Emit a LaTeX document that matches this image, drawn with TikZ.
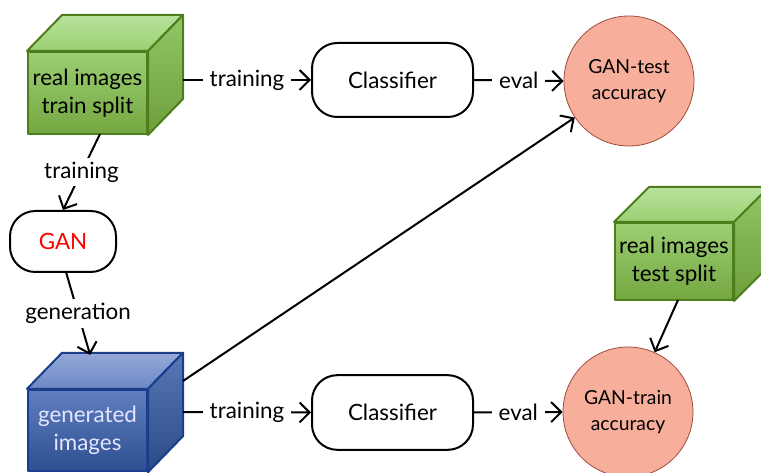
\documentclass[tikz,border=0pt]{standalone}
\usepackage{fontspec}
\setmainfont{Lato}
\usetikzlibrary{arrows.meta}
\definecolor{gFt}{HTML}{9BCF72}
\definecolor{gFb}{HTML}{74A641}
\definecolor{gTt}{HTML}{B8E29C}
\definecolor{gTb}{HTML}{9BCF72}
\definecolor{gRt}{HTML}{90C766}
\definecolor{gRb}{HTML}{6E9E3A}
\definecolor{gB}{HTML}{4E7D1C}
\definecolor{bFt}{HTML}{5F7FC0}
\definecolor{bFb}{HTML}{2E4F8F}
\definecolor{bTt}{HTML}{95A9D8}
\definecolor{bTb}{HTML}{6C88C5}
\definecolor{bRt}{HTML}{5877B6}
\definecolor{bRb}{HTML}{2B4A88}
\definecolor{bB}{HTML}{1B3E8C}
\definecolor{circF}{HTML}{F7AF9C}
\definecolor{circB}{HTML}{9C4A3A}
\definecolor{ganred}{HTML}{FF0000}
\tikzset{
  mainfont/.style={font=\fontsize{16.8}{21}\selectfont},
  face/.style={line width=1.5pt, line join=round},
  front/.style={rectangle, face, align=center, inner sep=0pt, mainfont},
  procbox/.style={rectangle, draw, line width=1.5pt, rounded corners=19pt, align=center, mainfont},
  result/.style={circle, fill=circF, draw=circB, line width=0.6pt, minimum size=97.5pt, inner sep=0pt, align=center, font=\fontsize{14.5}{19.5}\selectfont},
  conn/.style={line width=1.5pt, -{Straight Barb[length=7.5pt,width=15pt,line width=1.5pt]}},
  lbl/.style={fill=white, inner xsep=5pt, inner ysep=3pt, mainfont},
}
\begin{document}
\begin{tikzpicture}[x=0.75pt,y=-0.75pt]
\useasboundingbox (0,0) rectangle (761,473);
% ---- cube: real images train split
\node[front, top color=gFt, bottom color=gFb, draw=gB, minimum width=89.25pt, minimum height=61.5pt] (train) at (87.5,93) {real images\\train split};
\shade[face, top color=gTt, bottom color=gTb, draw=gB] (train.north west) -- (train.north east) -- ([shift={(35,-36)}]train.north east) -- ([shift={(35,-36)}]train.north west) -- cycle;
\shade[face, top color=gRt, bottom color=gRb, draw=gB] (train.north east) -- ([shift={(35,-36)}]train.north east) -- ([shift={(35,-36)}]train.south east) -- (train.south east) -- cycle;
% ---- cube: generated images
\node[front, top color=bFt, bottom color=bFb, draw=bB, text=white!90!blue, minimum width=89.25pt, minimum height=61pt] (gen) at (87.5,430.5) {generated\\images};
\shade[face, top color=bTt, bottom color=bTb, draw=bB] (gen.north west) -- (gen.north east) -- ([shift={(35,-36)}]gen.north east) -- ([shift={(35,-36)}]gen.north west) -- cycle;
\shade[face, top color=bRt, bottom color=bRb, draw=bB] (gen.north east) -- ([shift={(35,-36)}]gen.north east) -- ([shift={(35,-36)}]gen.south east) -- (gen.south east) -- cycle;
% ---- cube: real images test split
\node[front, top color=gFt, bottom color=gFb, draw=gB, minimum width=88.5pt, minimum height=57.75pt] (test) at (674,261.5) {real images\\test split};
\shade[face, top color=gTt, bottom color=gTb, draw=gB] (test.north west) -- (test.north east) -- ([shift={(35,-35)}]test.north east) -- ([shift={(35,-35)}]test.north west) -- cycle;
\shade[face, top color=gRt, bottom color=gRb, draw=gB] (test.north east) -- ([shift={(35,-35)}]test.north east) -- ([shift={(35,-35)}]test.south east) -- (test.south east) -- cycle;
% ---- process boxes
\node[procbox, minimum width=120.75pt, minimum height=55.5pt] (cls1) at (392.5,80) {Classifier};
\node[procbox, minimum width=120.75pt, minimum height=56pt] (cls2) at (392.5,412.5) {Classifier};
\node[procbox, minimum width=79.5pt, minimum height=45.75pt, text=ganred] (gan) at (63,241.5) {GAN};
% ---- results
\node[result] (gantest) at (629,81) {GAN-test\\accuracy};
\node[result] (gantrain) at (628,412) {GAN-train\\accuracy};
% ---- connector anchors
\coordinate (trainOut) at (183,80);
\coordinate (trainDown) at (100,134);
\coordinate (genOut) at (183,412);
\coordinate (genDiag) at (183,381);
\coordinate (testDown) at (678,300);
\coordinate (ganDown) at (66,272);
% ---- connectors
\draw[conn] (trainOut) -- node[lbl] {training} (cls1.west);
\draw[conn] (cls1.east) -- node[lbl] {eval} (gantest.west);
\draw[conn] (trainDown) -- node[lbl] {training} (gan.north);
\draw[conn] (ganDown) -- node[lbl] {generation} ([xshift=2pt]gen.north |- 0,355);
\draw[conn] (genOut) -- node[lbl] {training} (cls2.west);
\draw[conn] (cls2.east) -- node[lbl] {eval} (gantrain.west);
\draw[conn] (genDiag) -- (gantest);
\draw[conn] (testDown) -- (gantrain);
\end{tikzpicture}
\end{document}
